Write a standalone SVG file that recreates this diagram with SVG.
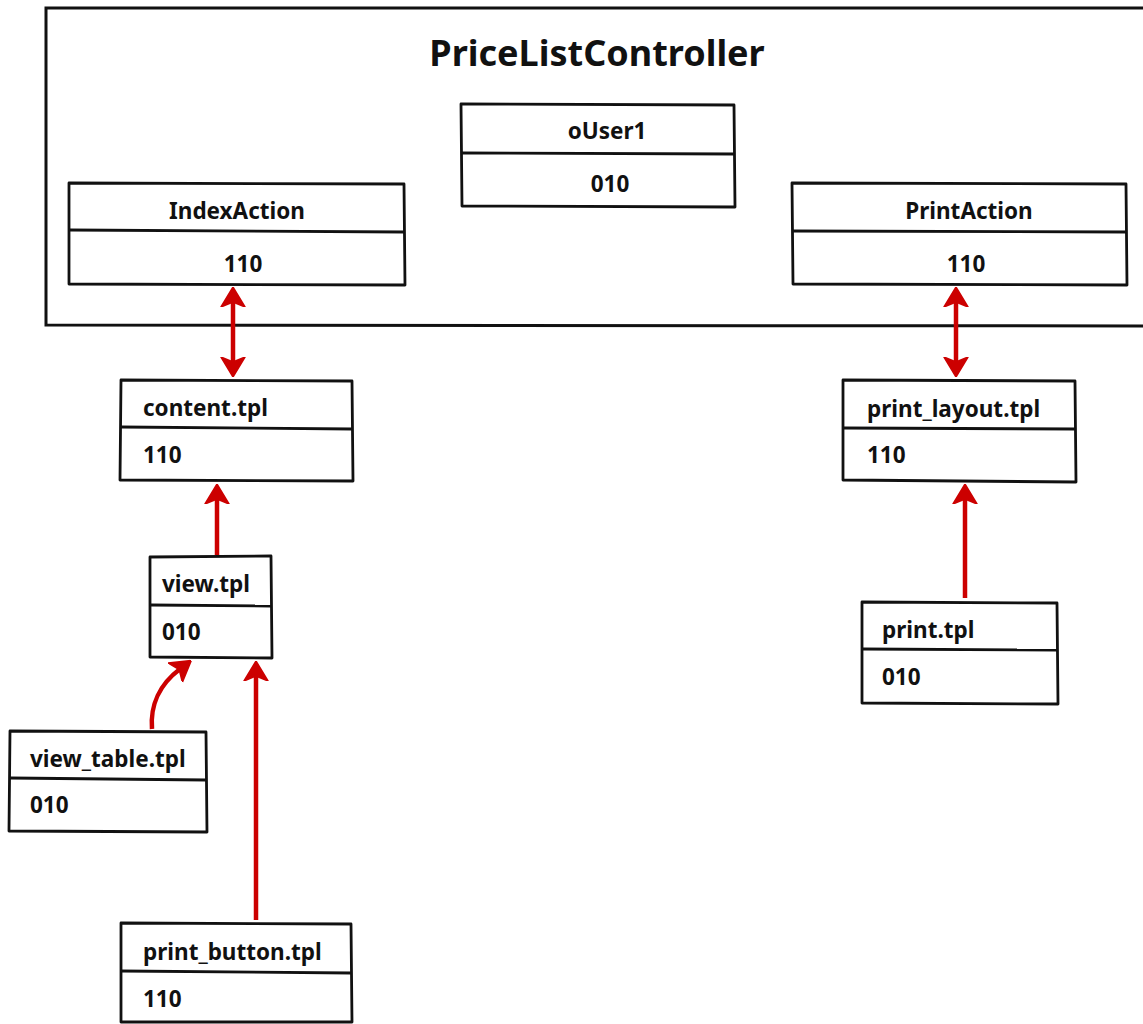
<svg xmlns="http://www.w3.org/2000/svg" width="1143" height="1024" viewBox="0 0 1143 1024">
  <style>
    .box { fill: #ffffff; stroke: #111111; stroke-width: 2.8; stroke-linejoin: round; }
    .sep { fill: none; stroke: #111111; stroke-width: 2.8; }
    .frame { fill: #ffffff; stroke: #111111; stroke-width: 3; }
    .title { font-family: "Noto Sans", "Liberation Sans", sans-serif; font-weight: 700; font-size: 36px; fill: #111111; }
    .lbl { font-family: "Noto Sans", "Liberation Sans", sans-serif; font-weight: 700; font-size: 22.5px; fill: #111111; }
    .mid { text-anchor: middle; }
    .wire { fill: none; stroke: #cc0000; stroke-width: 4.5; stroke-linecap: butt; }
  </style>
  <defs>
    <marker id="head" viewBox="0 0 20 26" refX="6" refY="13" markerWidth="20" markerHeight="26" markerUnits="userSpaceOnUse" orient="auto-start-reverse">
      <path d="M0,1 L20,13 L0,25 L5,13 Z" fill="#cc0000" stroke="#cc0000" stroke-width="1.5" stroke-linejoin="round"/>
    </marker>
  </defs>

  <rect width="1143" height="1024" fill="#ffffff"/>

  <!-- controller frame, open to the right edge -->
  <g id="controller">
    <path class="frame" d="M1160,8 L46,8 L46,325 L1160,326"/>
    <text class="title mid" x="597" y="66">PriceListController</text>
  </g>

  <g id="oUser1">
    <path class="box" d="M461,104 L734,105 L735,207 L462,206 Z"/>
    <path class="sep" d="M462,153 L734,154"/>
    <text class="lbl mid" x="607" y="139">oUser1</text>
    <text class="lbl mid" x="610" y="192">010</text>
  </g>

  <g id="IndexAction">
    <path class="box" d="M69,183 L404,184 L405,285 L69,284 Z"/>
    <path class="sep" d="M70,230 L404,232"/>
    <text class="lbl mid" x="237" y="219">IndexAction</text>
    <text class="lbl mid" x="243" y="272">110</text>
  </g>

  <g id="PrintAction">
    <path class="box" d="M792,183 L1126,184 L1127,285 L793,284 Z"/>
    <path class="sep" d="M793,231 L1126,232"/>
    <text class="lbl mid" x="969" y="219">PrintAction</text>
    <text class="lbl mid" x="966" y="272">110</text>
  </g>

  <g id="content_tpl">
    <path class="box" d="M121,380 L352,381 L353,481 L120,480 Z"/>
    <path class="sep" d="M121,427 L352,429"/>
    <text class="lbl" x="143" y="416">content.tpl</text>
    <text class="lbl" x="143" y="463">110</text>
  </g>

  <g id="view_tpl">
    <path class="box" d="M150,557 L271,556 L272,658 L150,657 Z"/>
    <path class="sep" d="M151,605 L271,606"/>
    <text class="lbl" x="162" y="592">view.tpl</text>
    <text class="lbl" x="162" y="640">010</text>
  </g>

  <g id="view_table_tpl">
    <path class="box" d="M10,731 L206,732 L207,832 L9,831 Z"/>
    <path class="sep" d="M10,778 L206,780"/>
    <text class="lbl" x="30" y="767">view_table.tpl</text>
    <text class="lbl" x="30" y="813">010</text>
  </g>

  <g id="print_button_tpl">
    <path class="box" d="M121,923 L351,924 L352,1022 L121,1022 Z"/>
    <path class="sep" d="M121,971 L351,973"/>
    <text class="lbl" x="143" y="960">print_button.tpl</text>
    <text class="lbl" x="143" y="1007">110</text>
  </g>

  <g id="print_layout_tpl">
    <path class="box" d="M843,380 L1075,381 L1076,482 L843,480 Z"/>
    <path class="sep" d="M844,428 L1075,429"/>
    <text class="lbl" x="867" y="417">print_layout.tpl</text>
    <text class="lbl" x="867" y="463">110</text>
  </g>

  <g id="print_tpl">
    <path class="box" d="M862,602 L1057,603 L1058,704 L862,703 Z"/>
    <path class="sep" d="M863,649 L1057,650"/>
    <text class="lbl" x="882" y="638">print.tpl</text>
    <text class="lbl" x="882" y="685">010</text>
  </g>

  <g id="connectors">
    <!-- IndexAction <-> content.tpl -->
    <path class="wire" d="M233,301 L233,363" marker-start="url(#head)" marker-end="url(#head)"/>
    <!-- PrintAction <-> print_layout.tpl -->
    <path class="wire" d="M956,301 L956,363" marker-start="url(#head)" marker-end="url(#head)"/>
    <!-- view.tpl -> content.tpl -->
    <path class="wire" d="M217,555 L217,498" marker-end="url(#head)"/>
    <!-- print.tpl -> print_layout.tpl -->
    <path class="wire" d="M965,598 L965,498" marker-end="url(#head)"/>
    <!-- view_table.tpl -> view.tpl -->
    <path class="wire" d="M152,729 C150,705 160,684 180,669" marker-end="url(#head)"/>
    <!-- print_button.tpl -> view.tpl -->
    <path class="wire" d="M256,920 L256,675" marker-end="url(#head)"/>
  </g>
</svg>
